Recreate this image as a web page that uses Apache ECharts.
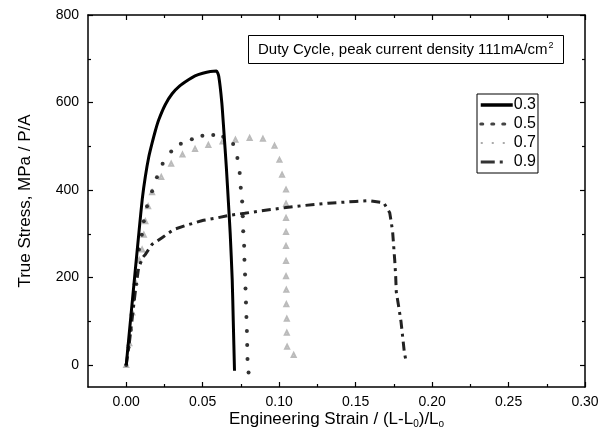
<!DOCTYPE html>
<html>
<head>
<meta charset="utf-8">
<script src="https://cdn.jsdelivr.net/npm/echarts@6/dist/echarts.min.js"></script>
<style>
  html, body { margin: 0; padding: 0; background: #fff; }
  #chart { width: 611px; height: 443px; }
</style>
</head>
<body>
<div id="chart"></div>
<script>
// duty cycle 0.3
const strain03 = [0, 0.003, 0.006, 0.0085, 0.0105, 0.0125, 0.0147, 0.0169, 0.019, 0.0212, 0.0255, 0.030, 0.035, 0.0407, 0.045, 0.05, 0.055, 0.059, 0.0605, 0.0625, 0.0638, 0.0655, 0.0671, 0.068, 0.0693, 0.070, 0.0708]
const stress03 = [0, 110, 220, 310, 380, 431, 475, 507, 535, 560, 595, 620, 638, 652, 661, 667, 671, 672, 660, 600, 537, 450, 355, 300, 196, 100, -13]
// duty cycle 0.5
const strain05 = [0, 0.0015, 0.003, 0.005, 0.0065, 0.0083, 0.0102, 0.0115, 0.0136, 0.0169, 0.0201, 0.0238, 0.0294, 0.0357, 0.0429, 0.0498, 0.0569, 0.0634, 0.0699, 0.0727, 0.0742, 0.0749, 0.0758, 0.0762, 0.0765, 0.0771, 0.0773, 0.0777, 0.078, 0.0783, 0.0786, 0.0789, 0.0791, 0.0793, 0.080]
const stress05 = [0, 40, 80, 150, 210, 264, 298, 329, 363, 397, 429, 460, 488, 506, 516, 524, 526, 522, 505, 473, 439, 405, 374, 340, 306, 273, 241, 207, 175, 143, 110, 78, 46, 14, -17]
// duty cycle 0.7
const strain07 = [0, 0.002, 0.004, 0.006, 0.0085, 0.0104, 0.0115, 0.0125, 0.0143, 0.0169, 0.0229, 0.0294, 0.0368, 0.045, 0.0537, 0.063, 0.0714, 0.0807, 0.0894, 0.097, 0.1002, 0.1019, 0.1045, 0.1045, 0.1045, 0.1045, 0.1045, 0.1045, 0.1045, 0.1047, 0.1047, 0.105, 0.105, 0.1052, 0.1095]
const stress07 = [0, 50, 120, 190, 240, 264, 298, 329, 363, 395, 430, 460, 481, 494, 503, 511, 515, 519, 517, 501, 469, 435, 401, 369, 336, 304, 272, 238, 203, 172, 139, 106, 74, 42, 23]
// duty cycle 0.9
const strain09 = [0, 0.002, 0.004, 0.006, 0.008, 0.0105, 0.0125, 0.0169, 0.0234, 0.031, 0.0407, 0.0505, 0.0591, 0.0667, 0.0775, 0.0872, 0.0959, 0.1045, 0.1143, 0.123, 0.132, 0.1413, 0.15, 0.1586, 0.1684, 0.1723, 0.1732, 0.1742, 0.1749, 0.1756, 0.1762, 0.1766, 0.1781, 0.1797, 0.1807, 0.1818, 0.1831]
const stress09 = [0, 50, 110, 170, 220, 245, 253, 276, 291, 310, 321, 331, 336, 342, 347, 352, 356, 360, 364, 367, 370, 372, 374, 376, 371, 348, 329, 305, 272, 238, 203, 167, 135, 99, 67, 31, 6]

const xMajor = [0, 0.05, 0.1, 0.15, 0.2, 0.25, 0.3]
const xMinor = [0.025, 0.075, 0.125, 0.175, 0.225, 0.275]
const yMajor = [0, 200, 400, 600, 800]
const yMinor = [100, 300, 500, 700]

const zip = (xs, ys) => xs.map((x, i) => [x, ys[i]])

const myChart = echarts.init(document.getElementById('chart'))

const lineColor = '#000'
const font = 'Liberation Sans, Arial, sans-serif'

function xAxisOf(position, ticks, len, withLine, withLabel) {
  return {
    type: 'value',
    position,
    min: -0.025,
    max: 0.3,
    axisLine: { show: withLine, onZero: false, lineStyle: { color: lineColor, width: 1.5 } },
    axisTick: { show: true, inside: true, length: len, customValues: ticks, lineStyle: { color: lineColor, width: 1.2 } },
    axisLabel: withLabel
      ? { show: true, customValues: xMajor, formatter: v => v.toFixed(2), fontSize: 14, color: '#000', margin: 8, fontFamily: font }
      : { show: false },
    splitLine: { show: false }
  }
}

function yAxisOf(position, ticks, len, withLine, withLabel) {
  return {
    type: 'value',
    position,
    min: -50,
    max: 800,
    axisLine: { show: withLine, onZero: false, lineStyle: { color: lineColor, width: 1.5 } },
    axisTick: { show: true, inside: true, length: len, customValues: ticks, lineStyle: { color: lineColor, width: 1.2 } },
    axisLabel: withLabel
      ? { show: true, customValues: yMajor, fontSize: 14, color: '#000', margin: 9, fontFamily: font }
      : { show: false },
    splitLine: { show: false }
  }
}

const xAxis = [
  Object.assign(xAxisOf('bottom', xMajor, 5, true, true), {
    name: 'Engineering Strain / (L-L{sub|0})/L{sub|o}',
    nameLocation: 'middle',
    nameGap: 22,
    nameMoveOverlap: false,
    nameTextStyle: {
      fontSize: 17, color: '#000', fontFamily: font,
      rich: { sub: { fontSize: 10, padding: [10, 0, 0, 0], color: '#000', fontFamily: font } }
    }
  }),
  xAxisOf('bottom', xMinor, 3, false, false),
  xAxisOf('top', xMajor, 5, true, false),
  xAxisOf('top', xMinor, 3, false, false)
]

const yAxis = [
  Object.assign(yAxisOf('left', yMajor, 5, true, true), {
    name: 'True Stress, MPa / P/A',
    nameLocation: 'middle',
    nameGap: 54,
    nameMoveOverlap: false,
    nameTextStyle: { fontSize: 17, color: '#000', fontFamily: font }
  }),
  yAxisOf('left', yMinor, 3, false, false),
  yAxisOf('right', yMajor, 5, true, false),
  yAxisOf('right', yMinor, 3, false, false)
]

const series = [
  {
    name: '0.3',
    type: 'line',
    data: zip(strain03, stress03),
    symbol: 'none',
    smooth: 0.2,
    z: 5,
    lineStyle: { color: '#000', width: 3 }
  },
  {
    name: '0.5',
    type: 'line',
    data: zip(strain05, stress05),
    symbol: 'circle',
    symbolSize: 4,
    z: 3,
    itemStyle: { color: '#333' },
    lineStyle: { width: 0, color: '#333' }
  },
  {
    name: '0.7',
    type: 'line',
    data: zip(strain07, stress07),
    symbol: 'emptyTriangle',
    symbolSize: 4,
    z: 2,
    itemStyle: { color: '#bbb', borderColor: '#999', borderWidth: 1 },
    lineStyle: { width: 0, color: '#999' }
  },
  {
    name: '0.9',
    type: 'line',
    data: zip(strain09, stress09),
    symbol: 'none',
    z: 4,
    lineStyle: { color: '#222', width: 3, type: [9, 5, 3, 5] }
  }
]

const hidden = { opacity: 0 }

const option = {
  animation: false,
  grid: { left: 88, right: 26, top: 15, bottom: 56 },
  title: {
    text: '{n|Duty Cycle, peak current density 111mA/cm}{sup|2}',
    left: 248,
    top: 35,
    padding: [6, 10, 6, 10],
    borderColor: '#000',
    borderWidth: 1,
    textStyle: {
      rich: {
        n: { fontSize: 15, fontWeight: 'normal', color: '#000', fontFamily: font },
        sup: { fontSize: 9, fontWeight: 'normal', color: '#000', padding: [0, 0, 9, 1], fontFamily: font }
      }
    }
  },
  legend: {
    orient: 'vertical',
    left: 477,
    top: 94,
    padding: [3, 2, 3, 2],
    itemGap: 3,
    itemWidth: 32,
    itemHeight: 14,
    borderColor: '#000',
    borderWidth: 1,
    textStyle: { fontSize: 16, color: '#000', fontFamily: font, padding: [0, 0, 0, -4] },
    data: [
      { name: '0.3', itemStyle: hidden, lineStyle: { width: 3.5, color: '#000' } },
      { name: '0.5', itemStyle: hidden, lineStyle: { width: 3, color: '#444', type: [2, 9], cap: 'round' } },
      { name: '0.7', itemStyle: hidden, lineStyle: { width: 2, color: '#aaa', type: [2, 9] } },
      { name: '0.9', itemStyle: hidden, lineStyle: { width: 3, color: '#333', type: [14, 5, 3, 20] } }
    ]
  },
  xAxis,
  yAxis,
  series
}

myChart.setOption(option)
</script>
</body>
</html>
